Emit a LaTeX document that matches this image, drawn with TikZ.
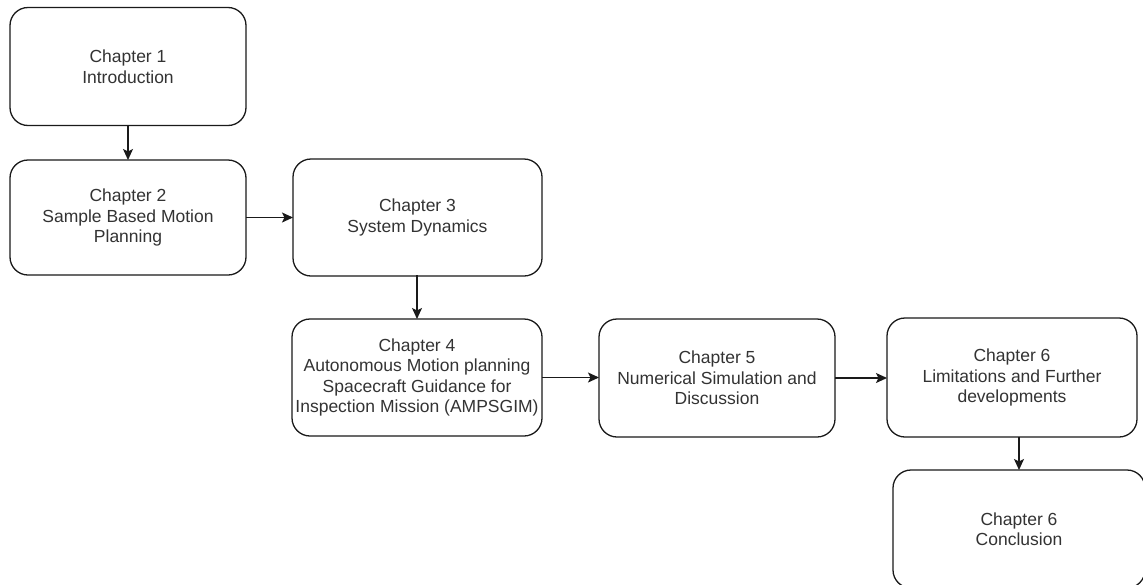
\documentclass[tikz,border=0pt]{standalone}
\usepackage{fontspec}
\setmainfont{Liberation Sans}
\usetikzlibrary{arrows.meta}
\definecolor{boxline}{HTML}{1A1A1A}
\definecolor{boxtext}{HTML}{333333}
\tikzset{
  chapbox/.style={draw=boxline, line width=1.3pt, rounded corners=18pt,
    rectangle, inner sep=0pt, outer sep=0pt, align=center, text=boxtext,
    font=\fontsize{17.5}{20.5}\selectfont},
  flow/.style={draw=boxline, line width=1.3pt,
    -{Stealth[length=11pt,width=10pt,inset=2.5pt]}}
}
\begin{document}
\begin{tikzpicture}[x=1pt,y=-1pt]
  \useasboundingbox (0,0) rectangle (1143,584);
  \clip (0,0) rectangle (1143,584);
  \fill[white] (0,0) rectangle (1143,584);

  \node[chapbox, minimum width=236pt, minimum height=118pt] (c1) at (128,66.5)
    {Chapter 1\\Introduction};
  \node[chapbox, minimum width=236pt, minimum height=115pt] (c2) at (128,217.5)
    {Chapter 2\\Sample Based Motion\\Planning};
  \node[chapbox, minimum width=249pt, minimum height=117pt] (c3) at (417.5,217.5)
    {Chapter 3\\System Dynamics};
  \node[chapbox, minimum width=250pt, minimum height=117pt] (c4) at (417,377.5)
    {Chapter 4\\Autonomous Motion planning\\Spacecraft Guidance for\\Inspection Mission (AMPSGIM)};
  \node[chapbox, minimum width=236pt, minimum height=118pt] (c5) at (717,378)
    {Chapter 5\\Numerical Simulation and\\Discussion};
  \node[chapbox, minimum width=250pt, minimum height=119pt] (c6) at (1012,377.5)
    {Chapter 6\\Limitations and Further\\developments};
  \node[chapbox, minimum width=252pt, minimum height=118pt] (c7) at (1019,529)
    {Chapter 6\\Conclusion};

  \draw[flow] (c1.south) -- (c2.north);
  \draw[flow] (c2.east) -- (c3.west |- c2.east);
  \draw[flow] (c3.south) -- (c4.north |- c3.south) -- (c4.north);
  \draw[flow] (c4.east) -- (c5.west |- c4.east);
  \draw[flow] (c5.east) -- (c6.west |- c5.east);
  \draw[flow] (c7.north |- c6.south) -- (c7.north);
\end{tikzpicture}
\end{document}
